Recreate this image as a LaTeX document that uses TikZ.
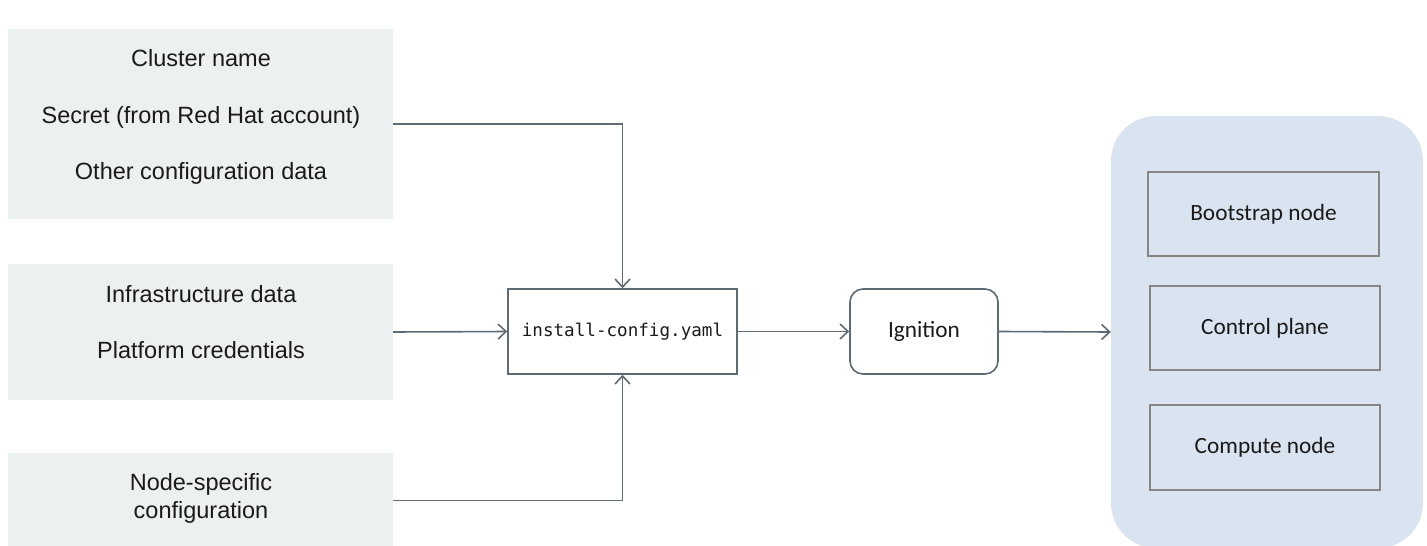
\documentclass[tikz,border=0pt]{standalone}
\usepackage{fontspec}
\setmainfont{Liberation Sans}
\newfontfamily\calibrifont{Carlito}
\setmonofont{DejaVu Sans Mono}
\usetikzlibrary{arrows.meta}
\definecolor{srcfill}{HTML}{ECF0F1}
\definecolor{podfill}{HTML}{DAE3F0}
\definecolor{wiregray}{HTML}{5F6B73}
\definecolor{framegray}{HTML}{858585}
\definecolor{inkgray}{HTML}{1A1A1A}
\begin{document}
\begin{tikzpicture}[x=1pt,y=-1pt,>={Straight Barb[length=8pt,width=15pt]},
  srcbox/.style={fill=srcfill, inner sep=0pt, minimum width=385pt},
  srctext/.style={anchor=base, inner sep=0pt, text=inkgray, font=\fontsize{23.5}{28}\selectfont},
  stagebox/.style={draw=wiregray, line width=1.6pt, fill=white, minimum height=85pt, inner sep=0pt, text=inkgray},
  machbox/.style={draw=framegray, line width=1.8pt, minimum width=230pt, minimum height=84pt, inner sep=0pt, text=inkgray, font=\calibrifont\fontsize{23.3}{28}\selectfont},
  wire/.style={draw=wiregray, line width=1.6pt}]
\useasboundingbox (0,0) rectangle (1427,546);
\clip (0,0) rectangle (1427,546);

\node(Cfg)[srcbox, minimum height=190pt] at (200.5,124) {};
\node(Infra)[srcbox, minimum height=136pt] at (200.5,332) {};
\node(NodeCfg)[srcbox, minimum height=95pt] at (200.5,500.5) {};

\node(CfgA)[srctext] at (201,66.5) {Cluster name};
\node(CfgB)[srctext] at (201,123.5) {Secret (from Red Hat account)};
\node(CfgC)[srctext] at (201,179.5) {Other configuration data};
\node(InfraA)[srctext] at (201,302.5) {Infrastructure data};
\node(InfraB)[srctext] at (201,358.5) {Platform credentials};
\node(NodeCfgA)[srctext] at (201,490.5) {Node-specific};
\node(NodeCfgB)[srctext] at (201,518.5) {configuration};

\node(Install)[stagebox, minimum width=229pt, font=\fontsize{17.6}{21}\selectfont\ttfamily] at (622.5,331.5) {install-config.yaml};
\node(Ign)[stagebox, minimum width=148pt, rounded corners=13pt, font=\calibrifont\fontsize{23.3}{28}\selectfont] at (924,331.5) {Ignition};

\node(Pod)[fill=podfill, rounded corners=45pt, minimum width=312pt, minimum height=432pt, inner sep=0pt] at (1267,332) {};
\node(Boot)[machbox, minimum width=231pt] at (1263.5,214) {Bootstrap node};
\node(Ctrl)[machbox] at (1265,328) {Control plane};
\node(Comp)[machbox, minimum height=85pt] at (1265,447.5) {Compute node};

\draw[wire,->] (Cfg.east) -| (Install.north);
\draw[wire,->] (Infra.east) -- (Install.west);
\draw[wire,->] (NodeCfg.east) -| (Install.south);
\draw[wire,->] (Install.east) -- (Ign.west);
\draw[wire,->] (Ign.east) -- (Pod.west);
\end{tikzpicture}
\end{document}
